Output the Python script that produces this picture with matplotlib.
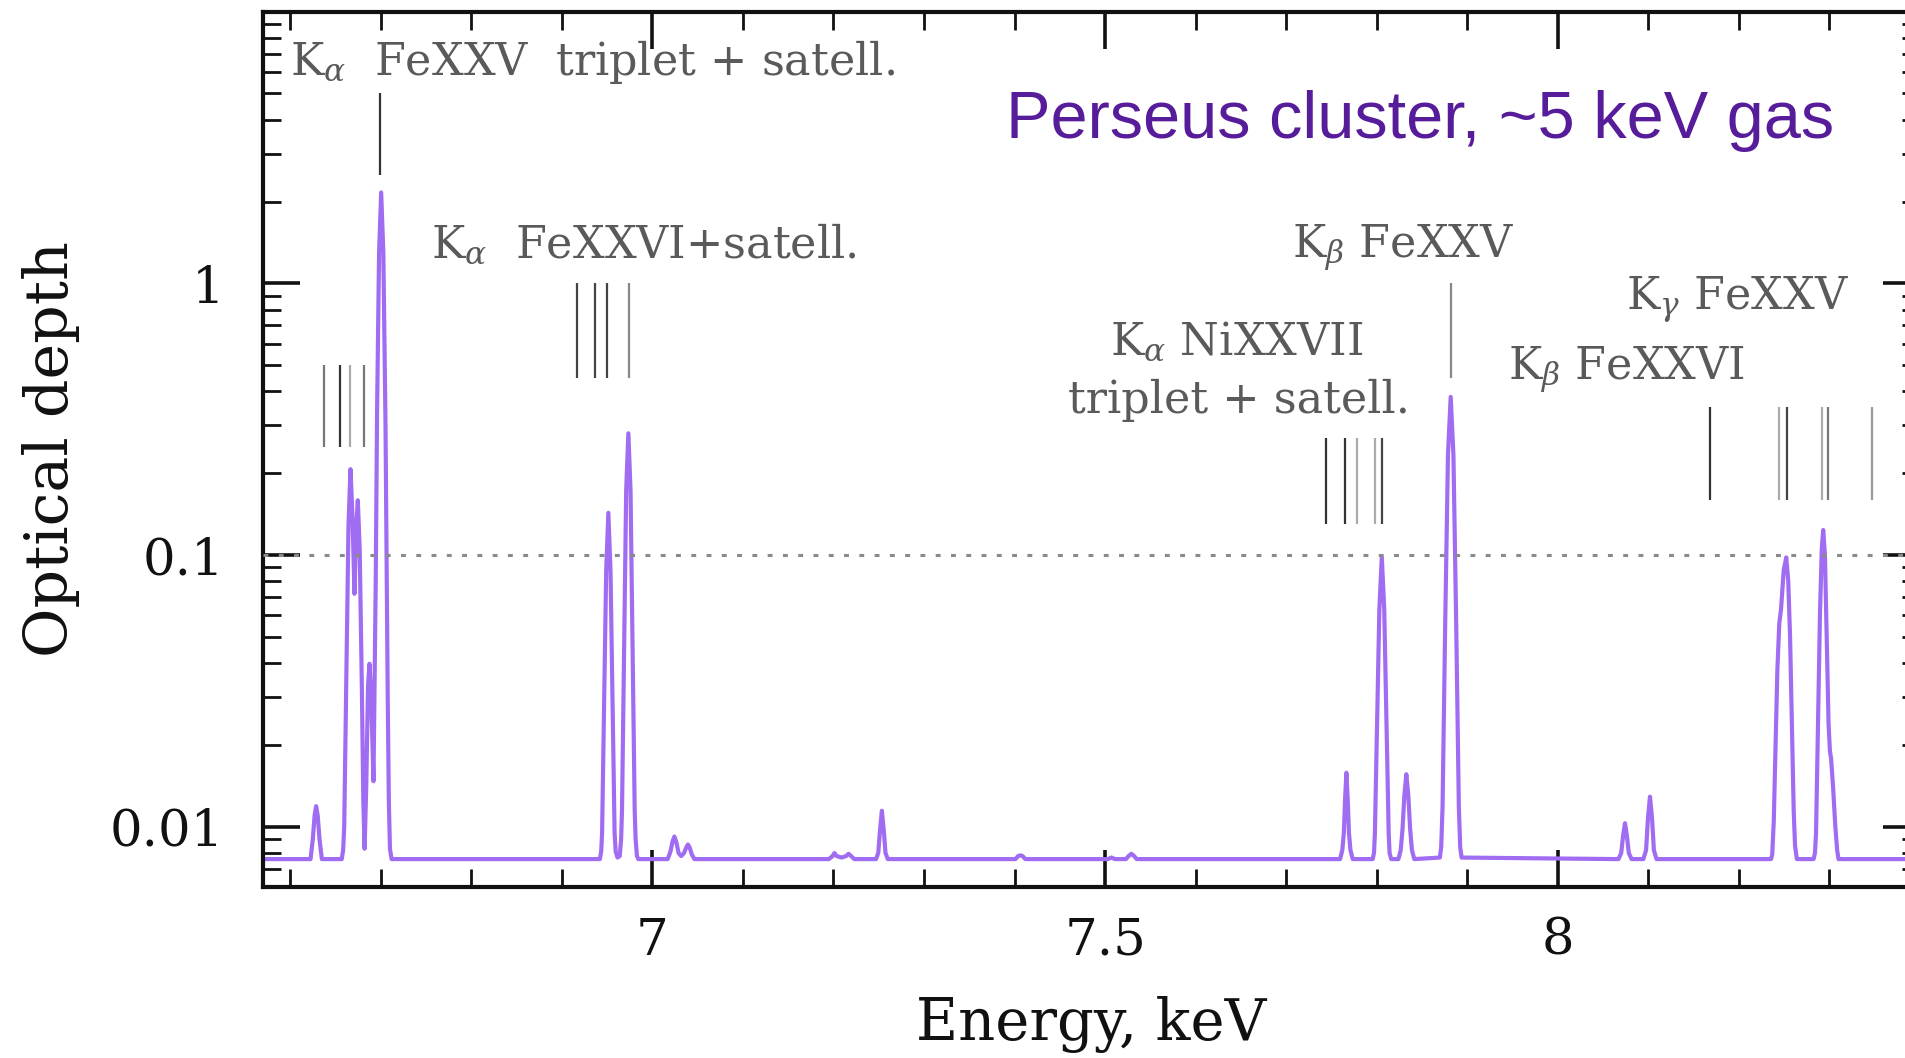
import matplotlib
matplotlib.use("Agg")
import matplotlib.pyplot as plt
from matplotlib.ticker import LogLocator, MultipleLocator, NullFormatter

plt.rcParams['mathtext.fontset'] = 'dejavuserif'
plt.rcParams['font.family'] = ['DejaVu Serif']

# ---------------- data ----------------
energy_keV = [
    6.5700, 6.6225, 6.6250, 6.6270, 6.6287, 6.6304, 6.6324, 6.6350,
    6.6570, 6.6585, 6.6597, 6.6620, 6.6644, 6.6666, 6.6688, 6.6710, 6.6730, 6.6747,
    6.6768, 6.6792, 6.6808, 6.6822, 6.6840, 6.6860, 6.6876, 6.6895, 6.6920, 6.6945,
    6.6960, 6.6982, 6.7005, 6.7029, 6.7053, 6.7077, 6.7090, 6.7102, 6.7120,
    6.9420, 6.9435, 6.9445, 6.9466, 6.9490, 6.9514, 6.9538, 6.9562, 6.9583, 6.9595, 6.9615,
    6.9640, 6.9655, 6.9665, 6.9688, 6.9711, 6.9735, 6.9759, 6.9782, 6.9805, 6.9815, 6.9830, 6.9845,
    7.0170, 7.0200, 7.0222, 7.0243, 7.0264, 7.0290, 7.0318, 7.0350, 7.0375, 7.0393, 7.0411, 7.0436, 7.0465,
    7.1950, 7.1990, 7.2011, 7.2035, 7.2090, 7.2140, 7.2167, 7.2195, 7.2230,
    7.2470, 7.2495, 7.2512, 7.2535, 7.2558, 7.2575, 7.2600,
    7.4010, 7.4040, 7.4064, 7.4088, 7.4120,
    7.5030, 7.5070, 7.5110,
    7.5230, 7.5260, 7.5290, 7.5320, 7.5350,
    7.7595, 7.7620, 7.7637, 7.7650, 7.7665, 7.7680, 7.7693, 7.7710, 7.7735,
    7.7955, 7.7970, 7.7980, 7.8002, 7.8029, 7.8056, 7.8083, 7.8110, 7.8132, 7.8142, 7.8160,
    7.8240, 7.8265, 7.8285, 7.8305, 7.8327, 7.8349, 7.8369, 7.8389, 7.8415,
    7.8697, 7.8712, 7.8727, 7.8757, 7.8787, 7.8817, 7.8847, 7.8877, 7.8907, 7.8922, 7.8937,
    8.0670, 8.0700, 8.0720, 8.0742, 8.0764, 8.0784, 8.0815,
    8.0945, 8.0975, 8.0995, 8.1018, 8.1041, 8.1061, 8.1090,
    8.2355, 8.2368, 8.2385, 8.2405, 8.2425, 8.2446, 8.2465, 8.2495, 8.2523, 8.2545,
    8.2565, 8.2585, 8.2605, 8.2620, 8.2640,
    8.2825, 8.2840, 8.2852, 8.2872, 8.2895, 8.2915, 8.2931, 8.2950, 8.2970, 8.2990,
    8.3005, 8.3018, 8.3040, 8.3065, 8.3085, 8.3100,
    8.4000,
]
optical_depth = [
    0.0076, 0.0076, 0.0090, 0.0110, 0.0119, 0.0110, 0.0090, 0.0076,
    0.0076, 0.0082, 0.0100, 0.0360, 0.1280, 0.2070, 0.1400, 0.0720, 0.1250, 0.1590,
    0.1050, 0.0320, 0.0125, 0.0083, 0.0140, 0.0330, 0.0398, 0.0300, 0.0147, 0.0800,
    0.3400, 1.3000, 2.1600, 1.3000, 0.3000, 0.0310, 0.0123, 0.0083, 0.0076,
    0.0076, 0.0081, 0.0095, 0.0270, 0.0870, 0.1430, 0.0870, 0.0270, 0.0095, 0.0081, 0.0077,
    0.0078, 0.0090, 0.0115, 0.0450, 0.1730, 0.2805, 0.1730, 0.0450, 0.0115, 0.0090, 0.0078, 0.0076,
    0.0076, 0.0081, 0.0088, 0.0092, 0.0088, 0.0080, 0.0078, 0.0080, 0.0084, 0.0086, 0.0084, 0.0079, 0.0076,
    0.0076, 0.0078, 0.0080, 0.0078, 0.0077, 0.0078, 0.00795, 0.0078, 0.0076,
    0.0076, 0.0080, 0.0095, 0.01145, 0.0095, 0.0080, 0.0076,
    0.0076, 0.0078, 0.00785, 0.0078, 0.0076,
    0.0076, 0.0077, 0.0076,
    0.0076, 0.0078, 0.00795, 0.0078, 0.0076,
    0.0076, 0.0082, 0.0095, 0.0125, 0.0158, 0.0125, 0.0095, 0.0082, 0.0076,
    0.0076, 0.0080, 0.0095, 0.0220, 0.0630, 0.0982, 0.0630, 0.0220, 0.0095, 0.0080, 0.0076,
    0.0076, 0.0082, 0.0098, 0.0130, 0.0156, 0.0130, 0.0098, 0.0082, 0.0076,
    0.0077, 0.0084, 0.0118, 0.0580, 0.2340, 0.3820, 0.2340, 0.0580, 0.0118, 0.0084, 0.0077,
    0.0076, 0.0080, 0.0092, 0.0103, 0.0092, 0.0080, 0.0076,
    0.0076, 0.0082, 0.0107, 0.0129, 0.0107, 0.0082, 0.0076,
    0.0076, 0.0079, 0.0105, 0.0200, 0.0380, 0.0560, 0.0630, 0.0880, 0.0980, 0.0800,
    0.0500, 0.0240, 0.0115, 0.0085, 0.0076,
    0.0076, 0.0080, 0.0095, 0.0220, 0.0600, 0.1050, 0.1236, 0.1000, 0.0500, 0.0240,
    0.0190, 0.0178, 0.0140, 0.0100, 0.0082, 0.0076,
    0.0076,
]

# line-identification markers (energy, lower and upper optical depth)
marker_energy = [6.6371, 6.6552, 6.6666, 6.6820, 6.6990,
                 6.9172, 6.9371, 6.9503, 6.9741,
                 7.7444, 7.7650, 7.7787, 7.7980, 7.8056,
                 7.8817,
                 8.1680, 8.2443, 8.2535, 8.2921, 8.2987, 8.3472]
marker_low = [0.25, 0.25, 0.25, 0.25, 2.5,
              0.45, 0.45, 0.45, 0.45,
              0.13, 0.13, 0.13, 0.13, 0.13,
              0.45,
              0.16, 0.16, 0.16, 0.16, 0.16, 0.16]
marker_high = [0.50, 0.50, 0.50, 0.50, 5.0,
               1.0, 1.0, 1.0, 1.0,
               0.27, 0.27, 0.27, 0.27, 0.27,
               1.0,
               0.35, 0.35, 0.35, 0.35, 0.35, 0.35]

x_ticks = [7.0, 7.5, 8.0]
x_tick_labels = ['7', '7.5', '8']
y_ticks = [0.01, 0.1, 1.0, 10.0]
y_tick_labels = ['0.01', '0.1', '1', '']

# ---------------- styling / layout ----------------
marker_shade = ['#777777', '#333333', '#aaaaaa', '#777777', '#333333',
                '#444444', '#444444', '#444444', '#888888',
                '#333333', '#333333', '#aaaaaa', '#aaaaaa', '#444444',
                '#888888',
                '#333333', '#aaaaaa', '#444444', '#aaaaaa', '#777777', '#999999']

W, H = 1906, 1058
fig = plt.figure(figsize=(W / 100, H / 100), dpi=100)
fig.patch.set_facecolor('white')

ax_l, ax_r, ax_t, ax_b = 263, 1920, 11.6, 887
ax = fig.add_axes([ax_l / W, 1 - ax_b / H, (ax_r - ax_l) / W, (ax_b - ax_t) / H])


def fx(px):
    return px / W


def fy(py):
    return 1 - py / H


ax.plot(energy_keV, optical_depth, color='#a06cf2', lw=3.0, zorder=2,
        solid_joinstyle='round')
ax.axhline(0.1, color='#8a8a8a', lw=2.2, dashes=(1.6, 3.4), zorder=3)
ax.vlines(marker_energy, marker_low, marker_high, colors=marker_shade, lw=1.6, zorder=2)

ax.set_yscale('log')
ax.set_xlim(6.57, 8.40)
ax.set_ylim(0.006, 10)

ax.set_xticks(x_ticks)
ax.set_xticklabels(x_tick_labels)
ax.xaxis.set_minor_locator(MultipleLocator(0.1))
ax.set_yticks(y_ticks)
ax.set_yticklabels(y_tick_labels)
ax.yaxis.set_minor_locator(LogLocator(base=10, subs=[2, 3, 4, 5, 6, 7, 8, 9], numticks=20))
ax.yaxis.set_minor_formatter(NullFormatter())

ax.tick_params(which='both', direction='in', top=True, right=True, colors='#111111')
ax.tick_params(which='major', length=26.5, width=2.6)
ax.tick_params(which='minor', length=13, width=2.0)
ax.tick_params(axis='y', which='major', labelsize=37, pad=28)
ax.tick_params(axis='x', which='major', labelsize=37, pad=21)
for sp in ax.spines.values():
    sp.set_linewidth(3.0)
    sp.set_color('#111111')

ax.set_xlabel('Energy, keV', fontsize=41.5, color='#111111')
ax.xaxis.label.set_va('baseline')
ax.xaxis.set_label_coords(0.5, (ax_b - 1040) / (ax_b - ax_t))
ax.set_ylabel('Optical depth', fontsize=43.5, color='#111111')
ax.yaxis.set_label_coords((80 - ax_l) / (ax_r - ax_l), 0.5)

ann_col = '#5a5a5a'
ann_size = 32
fig.text(fx(290), fy(75), r'K$_\alpha$  FeXXV  triplet + satell.', fontsize=ann_size,
         color=ann_col, ha='left', va='baseline')
fig.text(fx(431), fy(258), r'K$_\alpha$  FeXXVI+satell.', fontsize=ann_size,
         color=ann_col, ha='left', va='baseline')
fig.text(fx(1292), fy(258), r'K$_\beta$ FeXXV', fontsize=ann_size,
         color=ann_col, ha='left', va='baseline')
fig.text(fx(1237), fy(355), r'K$_\alpha$ NiXXVII', fontsize=ann_size,
         color=ann_col, ha='center', va='baseline')
fig.text(fx(1239), fy(413), 'triplet + satell.', fontsize=ann_size,
         color=ann_col, ha='center', va='baseline')
fig.text(fx(1626), fy(310), r'K$_\gamma$ FeXXV', fontsize=ann_size,
         color=ann_col, ha='left', va='baseline')
fig.text(fx(1508), fy(380), r'K$_\beta$ FeXXVI', fontsize=ann_size,
         color=ann_col, ha='left', va='baseline')

fig.text(fx(1834), fy(138), 'Perseus cluster, ~5 keV gas', fontsize=48,
         family='Liberation Sans', color='#571c9a', ha='right', va='baseline')

fig.savefig('out.png', dpi=100, facecolor='white')
